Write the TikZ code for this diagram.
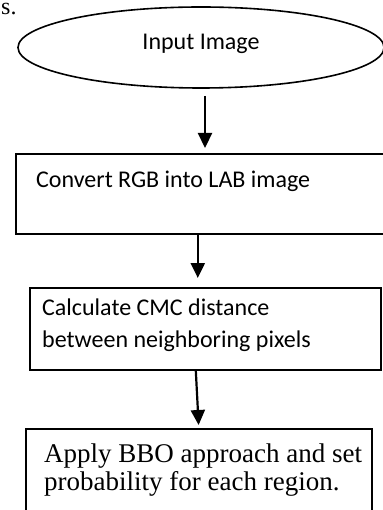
\documentclass[tikz,border=0pt]{standalone}
\usepackage{fontspec}
\setmainfont{Liberation Serif}
\newfontfamily\calibri{Carlito}
\usetikzlibrary{shapes.geometric,arrows.meta,calc}

\begin{document}
\begin{tikzpicture}[x=1pt,y=-1pt,
  stepbox/.style={draw,rectangle,line width=1.6pt,inner sep=0pt,anchor=north west},
  txt/.style={anchor=base west,inner sep=0pt},
  flow/.style={line width=2.2pt,-{Triangle[width=14pt,length=15pt]}}]
\useasboundingbox (0,0) rectangle (382,510);

\node[txt,font=\fontsize{24}{28}\selectfont] (frag) at (1,15) {s.};

% start
\node[draw,ellipse,line width=1.6pt,minimum width=366pt,minimum height=81pt,inner sep=0pt] (input) at (201,47.5) {};
\node[anchor=base,inner sep=0pt,font=\calibri\fontsize{24}{28}\selectfont] (inputtxt) at (201,50) {Input Image};

% boxes
\node[stepbox,minimum width=370pt,minimum height=80pt] (lab) at (15,153) {};
\node[stepbox,minimum width=351pt,minimum height=82pt] (cmc) at (29,287) {};
\node[stepbox,minimum width=346pt,minimum height=102pt] (bbo) at (25,428) {};

\node[txt,font=\calibri\fontsize{24}{28}\selectfont] (labtxt) at (36,188) {Convert RGB into LAB image};
\node[txt,font=\calibri\fontsize{24}{28}\selectfont] (cmctxta) at (42,315) {Calculate CMC distance};
\node[txt,font=\calibri\fontsize{24}{28}\selectfont] (cmctxtb) at (42,347) {between neighboring pixels};
\node[txt,font=\fontsize{27}{28}\selectfont] (bbotxta) at (44,462) {Apply BBO approach and set};
\node[txt,font=\fontsize{27}{28}\selectfont] (bbotxtb) at (44,490) {probability for each region.};

% arrows
\draw[flow,shorten <=7pt,shorten >=5pt] ([xshift=4pt]input.south) -- ([xshift=4pt]input.south |- lab.north);
\draw[flow,shorten >=9pt] ([xshift=-3pt]lab.south) -- ([xshift=-3pt]lab.south |- cmc.north);
\draw[flow,shorten >=3pt] ([xshift=-9.5pt]cmc.south) -- (bbo.north);

\end{tikzpicture}
\end{document}
